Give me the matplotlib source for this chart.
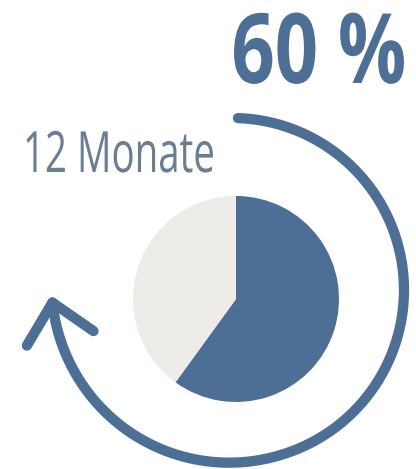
import numpy as np
import matplotlib
matplotlib.use("Agg")
import matplotlib.pyplot as plt
from matplotlib.patheffects import AbstractPathEffect
from matplotlib.transforms import Affine2D

# data
shares = [60, 40]
share_labels = ["12 Monate", "Rest"]
period_label = "12 Monate"

BLUE = "#4d6f96"
GREY = "#eeece9"
LABEL = "#6a7d92"


class Squeeze(AbstractPathEffect):
    """Condense glyphs horizontally, keeping the left or right edge fixed."""

    def __init__(self, sx=1.0, keep="left"):
        super().__init__()
        self.sx = sx
        self.keep = keep

    def draw_path(self, renderer, gc, tpath, affine, rgbFace=None):
        x0 = 0.0
        if self.keep == "right":
            x0 = tpath.get_extents().x1
        squeeze = Affine2D().translate(-x0, 0).scale(self.sx, 1.0).translate(x0, 0)
        renderer.draw_path(gc, tpath, squeeze + affine, rgbFace)


W, H = 416, 469
fig = plt.figure(figsize=(W / 100, H / 100), dpi=100)
ax = fig.add_axes([0, 0, 1, 1])

# pie (clockwise from 12 o'clock)
ax.pie(shares, colors=[BLUE, GREY], startangle=90, counterclock=False,
       center=(236, H - 299), radius=103,
       wedgeprops=dict(linewidth=0))

# circular arrow around the pie
cx, cy = 232, H - 290
t = np.linspace(0, 1, 400)
theta = np.radians(88 - 264 * t)
r = 172 + 8 * np.clip((t - 0.6) / 0.4, 0, None) ** 1.5
ax.plot(cx + r * np.cos(theta), cy + r * np.sin(theta), color=BLUE, lw=7.4,
        solid_capstyle="round", solid_joinstyle="round")
tip = np.array([cx + r[-1] * np.cos(theta[-1]), cy + r[-1] * np.sin(theta[-1])])
a1, a2 = np.radians(-120.7), np.radians(-34.8)
p1 = tip + 50 * np.array([np.cos(a1), np.sin(a1)])
p2 = tip + 50 * np.array([np.cos(a2), np.sin(a2)])
ax.plot([p1[0], tip[0], p2[0]], [p1[1], tip[1], p2[1]], color=BLUE, lw=7.4,
        solid_capstyle="round", solid_joinstyle="round")

ax.set_xlim(0, W)
ax.set_ylim(0, H)
ax.set_aspect("equal")
ax.axis("off")

# texts
big = ax.text(407, H - 83, f"{shares[0]} %", fontsize=70, fontweight="bold",
              family=["Open Sans", "DejaVu Sans"], color=BLUE,
              ha="right", va="baseline")
small = ax.text(23, H - 172, period_label, fontsize=41,
                family=["Open Sans", "DejaVu Sans"], color=LABEL,
                ha="left", va="baseline")

fig.canvas.draw()
rend = fig.canvas.get_renderer()
for txt, target, keep in [(big, 175, "right"), (small, 192, "left")]:
    w = txt.get_window_extent(rend).width
    txt.set_path_effects([Squeeze(target / w, keep)])

fig.savefig("out.png", dpi=100, facecolor="white")
